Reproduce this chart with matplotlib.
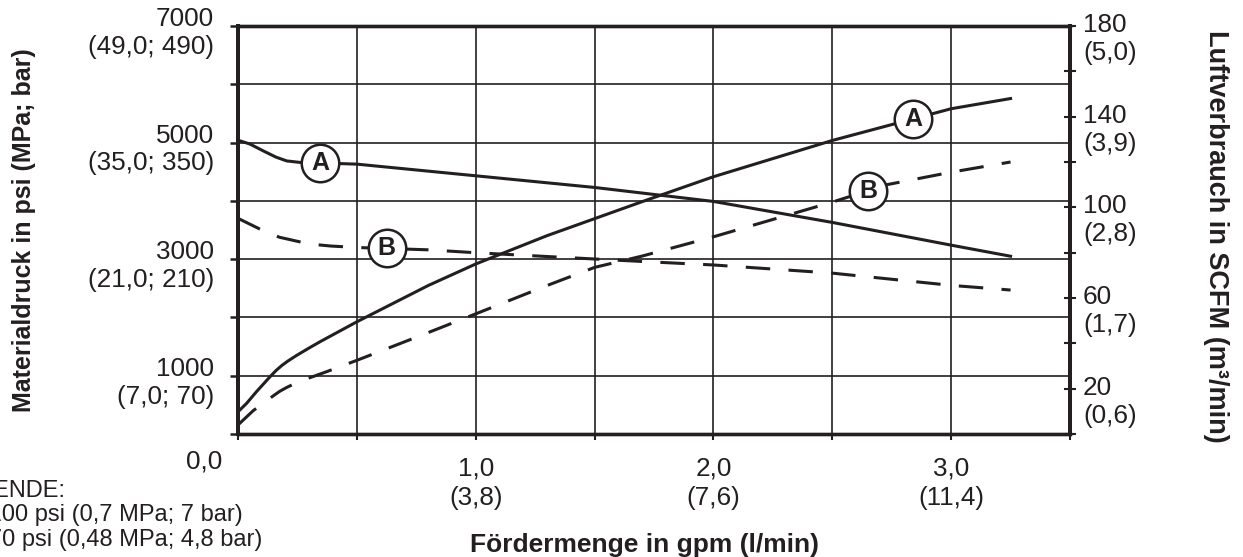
import numpy as np
import matplotlib
matplotlib.use("Agg")
import matplotlib.pyplot as plt
import matplotlib.transforms as mtransforms

plt.rcParams['font.family'] = ['Liberation Sans', 'DejaVu Sans']
INK = '#231f20'
FS = 18.8

# flow rate in gpm
flow_press_a = [0.0, 0.05, 0.105, 0.16, 0.205, 0.26, 0.35, 0.5, 1.0, 1.5, 2.0, 2.5, 3.0, 3.25]
press_a = [5040, 4975, 4860, 4750, 4685, 4660, 4650, 4630, 4430, 4230, 3990, 3630, 3240, 3050]

flow_press_b = [0.0, 0.1, 0.175, 0.3, 0.39, 0.5, 0.8, 1.0, 1.3, 1.7, 2.0, 2.5, 3.0, 3.25]
press_b = [3700, 3500, 3375, 3260, 3225, 3200, 3160, 3110, 3045, 2960, 2900, 2760, 2550, 2470]

flow_air_a = [0.0, 0.036, 0.078, 0.135, 0.16, 0.184, 0.21, 0.247, 0.3, 0.345, 0.5, 0.8,
              1.0, 1.3, 1.5, 1.7, 2.0, 2.5, 3.0, 3.25]
air_a = [9.8, 13.5, 18.7, 25.3, 28.0, 30.2, 32.2, 34.7, 38.0, 40.7, 49.5, 65.5,
         75, 87.5, 95, 102.5, 113.5, 129.5, 143.5, 148]

flow_air_b = [0.0, 0.064, 0.148, 0.175, 0.204, 0.25, 0.296, 0.373, 0.5, 0.77, 1.0, 1.3,
              1.5, 1.7, 2.0, 2.5, 2.73, 3.0, 3.25]
air_b = [4, 10.3, 16.8, 18.8, 20.5, 22.8, 24.6, 27.5, 32.5, 43.5, 53, 65.5,
         73.5, 78.5, 87, 102.3, 110, 115.5, 120]

# where the circled curve letters sit (flow value)
tag_press_a, tag_press_b = 0.345, 0.626
tag_air_a, tag_air_b = 2.84, 2.65

psi_ticks = [7000, 5000, 3000, 1000]
psi_sub = ['(49,0; 490)', '(35,0; 350)', '(21,0; 210)', '(7,0; 70)']
scfm_ticks = [180, 140, 100, 60, 20]
scfm_sub = ['(5,0)', '(3,9)', '(2,8)', '(1,7)', '(0,6)']
gpm_ticks = [1.0, 2.0, 3.0]
gpm_lab = ['1,0\n(3,8)', '2,0\n(7,6)', '3,0\n(11,4)']

W, H = 1243, 557
fig = plt.figure(figsize=(W / 100, H / 100), dpi=100)
ax = fig.add_axes([238 / W, 1 - 434 / H, (1070 - 238) / W, (434 - 26) / H])
ax2 = ax.twinx()

ax.set_xlim(0, 3.5)
ax.set_ylim(0, 7000)
ax2.set_ylim(0, 180)

xt = np.arange(0, 3.51, 0.5)
ax.set_xticks(xt)
ax.set_xticklabels([gpm_lab[gpm_ticks.index(v)] if v in gpm_ticks else '' for v in xt],
                   fontsize=FS, color=INK, linespacing=1.3)
ax.set_yticks(np.arange(0, 7001, 1000))
ax.grid(True, color=INK, lw=1.2)
ax.tick_params(axis='x', direction='out', length=4, width=1.5, color=INK, pad=12)
ax.tick_params(axis='y', direction='out', length=6, width=1.8, color=INK, labelleft=False)

ax2.set_yticks(np.arange(0, 181, 20))
ax2.tick_params(axis='y', direction='inout', length=9, width=1.5, color=INK, labelright=False)

for a in (ax, ax2):
    for side in ('left', 'right'):
        a.spines[side].set_linewidth(2.8)
    for side in ('top', 'bottom'):
        a.spines[side].set_linewidth(2.4)
    for sp in a.spines.values():
        sp.set_color(INK)

# pressure curves on the left axis
ax.plot(flow_press_a, press_a, color=INK, lw=2.2, zorder=3)
ax.plot(flow_press_b, press_b, color=INK, lw=2.2, ls=(0, (8, 6)), zorder=3)
# air consumption on the right axis
ax2.plot(flow_air_a, air_a, color=INK, lw=2.2, zorder=3)
ax2.plot(flow_air_b, air_b, color=INK, lw=2.2, ls=(0, (8, 6)), zorder=3)


def tag(a, x, xs, ys, letter):
    y = np.interp(x, xs, ys)
    a.plot([x], [y], 'o', ms=27, mfc='white', mec=INK, mew=1.8, zorder=5)
    a.text(x, y, letter, ha='center', va='center', fontsize=18,
           fontweight='bold', color=INK, zorder=6)


tag(ax, tag_press_a, flow_press_a, press_a, 'A')
tag(ax, tag_press_b, flow_press_b, press_b, 'B')
tag(ax2, tag_air_a, flow_air_a, air_a, 'A')
tag(ax2, tag_air_b, flow_air_b, air_b, 'B')

# two-line axis labels beside the spines
left_tr = mtransforms.offset_copy(
    mtransforms.blended_transform_factory(ax.transAxes, ax.transData),
    fig=fig, x=-24, y=-7, units='dots')
for v, sub in zip(psi_ticks, psi_sub):
    ax.text(0, v, f'{v}\n{sub}', transform=left_tr, ha='right', va='center',
            fontsize=FS, color=INK, linespacing=1.2)

right_tr = mtransforms.offset_copy(
    mtransforms.blended_transform_factory(ax2.transAxes, ax2.transData),
    fig=fig, x=13, y=-13, units='dots')
for v, sub in zip(scfm_ticks, scfm_sub):
    ax2.text(1, v, f'{v}\n{sub}', transform=right_tr, ha='left', va='center',
             fontsize=FS, color=INK, linespacing=1.2)

fig.text(222 / W, 1 - 461 / H, '0,0', ha='right', va='center', fontsize=FS, color=INK)

fig.text(24 / W, 1 - 230 / H, 'Materialdruck in psi (MPa; bar)', rotation=90,
         ha='center', va='center', fontsize=18, fontweight='bold', color=INK)
fig.text(1216 / W, 1 - 236 / H, 'Luftverbrauch in SCFM (m³/min)', rotation=270,
         ha='center', va='center', fontsize=19.5, fontweight='bold', color=INK)
fig.text(644 / W, 1 - 545 / H, 'Fördermenge in gpm (l/min)',
         ha='center', va='center', fontsize=19, fontweight='bold', color=INK)

# legend block at the lower left
fig.text(65 / W, 1 - 491 / H, 'LEGENDE:', ha='right', va='center', fontsize=17, color=INK)
fig.text(243 / W, 1 - 515 / H, 'A  100 psi (0,7 MPa; 7 bar)', ha='right', va='center',
         fontsize=17, color=INK)
fig.text(262 / W, 1 - 540 / H, 'B  70 psi (0,48 MPa; 4,8 bar)', ha='right', va='center',
         fontsize=17, color=INK)

fig.savefig('out.png', dpi=100)
